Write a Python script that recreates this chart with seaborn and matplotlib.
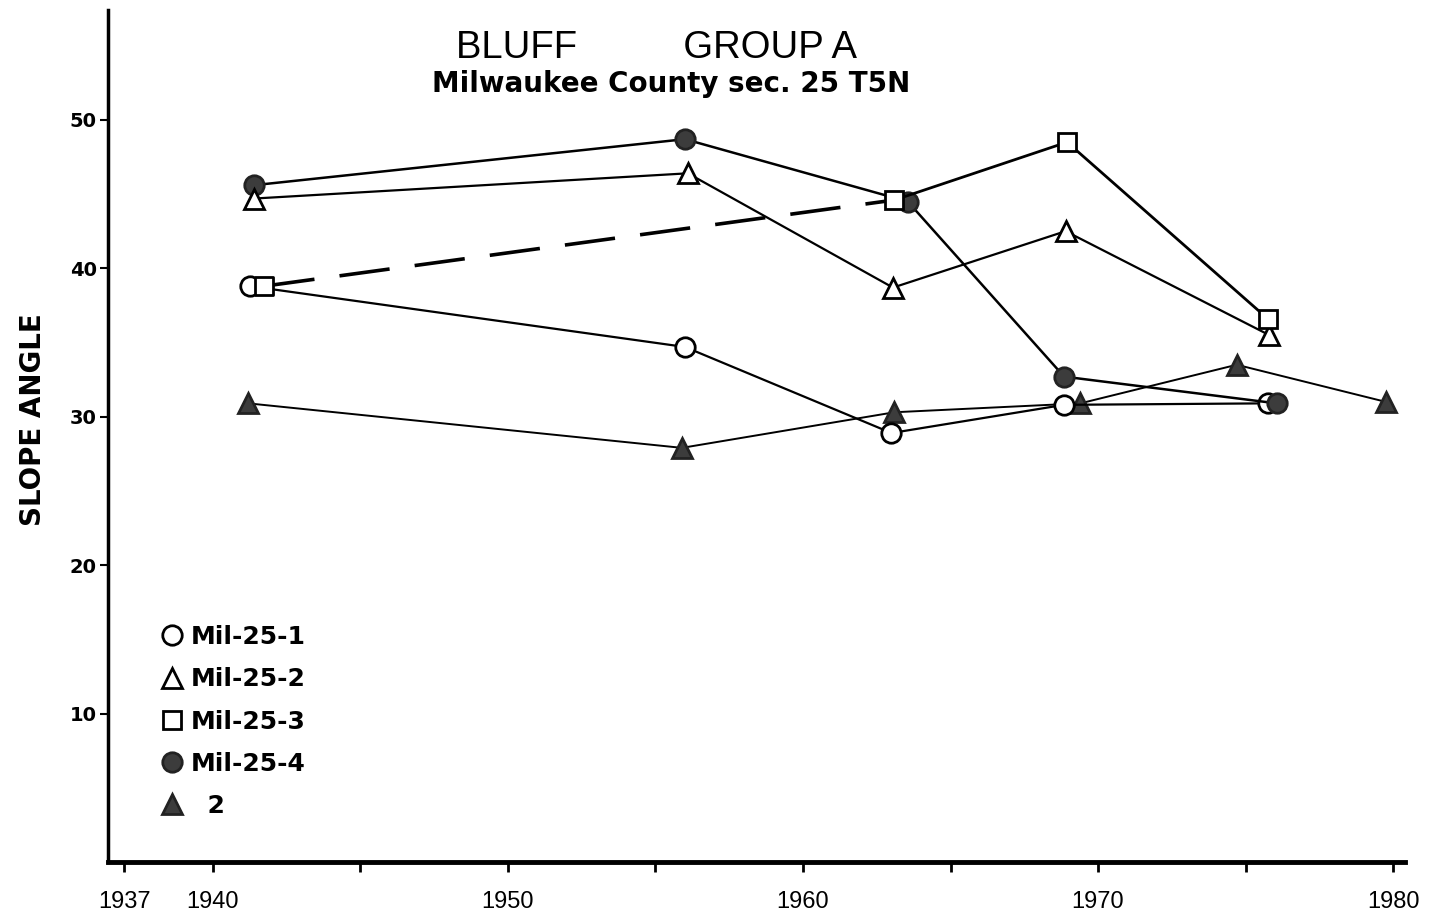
import matplotlib
matplotlib.use("Agg")
import matplotlib.pyplot as plt
import seaborn as sns
import pandas as pd
from matplotlib.lines import Line2D
from matplotlib.ticker import FixedLocator

# ---- data ----
mil1_x = [1941.25, 1956.0, 1963.0, 1968.85, 1975.75]
mil1_y = [38.8, 34.7, 28.9, 30.8, 30.9]

mil2_x = [1941.4, 1956.1, 1963.05, 1968.9, 1975.8]
mil2_y = [44.7, 46.4, 38.7, 42.5, 35.5]

mil3_x = [1941.75, 1963.1, 1968.95, 1975.75]
mil3_y = [38.8, 44.6, 48.5, 36.6]

mil4_x = [1941.4, 1956.0, 1963.55, 1968.85, 1976.05]
mil4_y = [45.6, 48.7, 44.5, 32.7, 30.9]

s2_x = [1941.2, 1955.9, 1963.1, 1969.4, 1974.7, 1979.75]
s2_y = [30.9, 27.9, 30.3, 30.9, 33.5, 31.0]

labels = ["Mil-25-1", "Mil-25-2", "Mil-25-3", "Mil-25-4", "2"]
x_major = [1937, 1940, 1950, 1960, 1970, 1980]
x_minor = [1945, 1955, 1965, 1975]
y_ticks = [10, 20, 30, 40, 50]

sns.set_theme(style="white")
plt.rcParams["font.family"] = ["Liberation Sans", "DejaVu Sans"]
for k in ["text.color", "axes.labelcolor", "xtick.color", "ytick.color",
          "axes.edgecolor"]:
    plt.rcParams[k] = "black"

fig = plt.figure(figsize=(14.3, 9.15), dpi=100)
ax = fig.add_axes([0.0755, 0.058, 0.907, 0.931])

fill = "#3c3c3c"
mk = 14

def draw(xs, ys, marker, filled, lw=1.6, ls="-", ms=mk):
    df = pd.DataFrame({"x": xs, "y": ys})
    sns.lineplot(data=df, x="x", y="y", ax=ax, color="black", lw=lw,
                 linestyle=ls, marker=marker, markersize=ms,
                 markerfacecolor=(fill if filled else "white"),
                 markeredgecolor=("#222222" if filled else "black"),
                 markeredgewidth=2.0, sort=False, estimator=None, zorder=3)

# series "2" (filled triangles)
draw(s2_x, s2_y, "^", True, lw=1.4, ms=15)
# Mil-25-1 open circles
draw(mil1_x, mil1_y, "o", False, lw=1.6)
# Mil-25-4 filled circles
draw(mil4_x, mil4_y, "o", True, lw=1.8)
# Mil-25-2 open triangles
draw(mil2_x, mil2_y, "^", False, lw=1.6, ms=15)
# Mil-25-3: dashed first segment, then solid
df3a = pd.DataFrame({"x": mil3_x[:2], "y": mil3_y[:2]})
sns.lineplot(data=df3a, x="x", y="y", ax=ax, color="black", lw=2.6,
             dashes=False, sort=False, estimator=None, zorder=2)
ax.lines[-1].set_dashes([14, 7])
draw(mil3_x[1:], mil3_y[1:], "s", False, lw=2.0, ms=13)
df3b = pd.DataFrame({"x": mil3_x[:1], "y": mil3_y[:1]})
sns.scatterplot(data=df3b, x="x", y="y", ax=ax, marker="s", s=13**2,
                facecolor="white", edgecolor="black", linewidth=2.0, zorder=4)

ax.set_xlim(1936.45, 1980.4)
ax.set_ylim(0, 57.4)

ax.xaxis.set_major_locator(FixedLocator(x_major))
ax.xaxis.set_minor_locator(FixedLocator(x_minor))
ax.set_xticklabels([str(v) for v in x_major],
                   family=["Liberation Sans", "DejaVu Sans"], fontsize=17)
ax.set_yticks(y_ticks)
ax.set_yticklabels([str(v) for v in y_ticks], fontsize=14, fontweight="bold",
                   family=["DejaVu Sans"])
ax.tick_params(axis="x", which="both", direction="out", length=7, width=2,
               pad=14, bottom=True, color="black")
ax.tick_params(axis="y", direction="out", length=6, width=1.5, left=True,
               pad=2, color="black")

ax.set_xlabel("")
ax.set_ylabel("SLOPE ANGLE", fontsize=20, fontweight="bold",
              family=["DejaVu Sans"])
ax.yaxis.set_label_coords(-0.047, 0.519)

for s in ["top", "right"]:
    ax.spines[s].set_visible(False)
ax.spines["left"].set_linewidth(2.5)
ax.spines["bottom"].set_linewidth(3.5)
ax.grid(False)

fig.text(0.459, 0.947, "BLUFF          GROUP A", ha="center", va="center",
         fontsize=27.5, color="black")
fig.text(0.469, 0.908, "Milwaukee County sec. 25 T5N", ha="center",
         va="center", fontsize=20, fontweight="bold", family=["DejaVu Sans"],
         color="black")

handles = [
    Line2D([], [], ls="none", marker="o", ms=14, mfc="white", mec="black", mew=2),
    Line2D([], [], ls="none", marker="^", ms=15, mfc="white", mec="black", mew=2),
    Line2D([], [], ls="none", marker="s", ms=13, mfc="white", mec="black", mew=2),
    Line2D([], [], ls="none", marker="o", ms=14, mfc=fill, mec="#222222", mew=2),
    Line2D([], [], ls="none", marker="^", ms=15, mfc=fill, mec="#222222", mew=2),
]
leg_labels = labels[:4] + ["  " + labels[4]]
ax.legend(handles, leg_labels, loc="lower left", bbox_to_anchor=(0.024, 0.025),
          frameon=False, handlelength=0.8, handletextpad=0.35,
          labelspacing=0.73,
          prop={"weight": "bold", "size": 18, "family": "DejaVu Sans"})

fig.savefig("out.png", dpi=100, facecolor="white")
